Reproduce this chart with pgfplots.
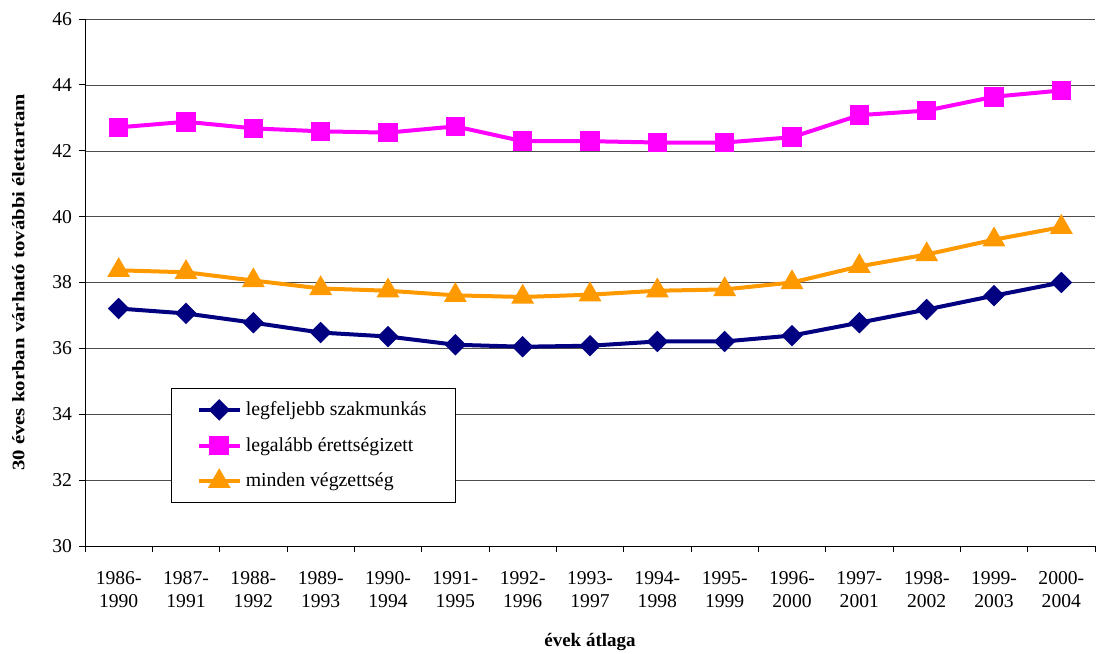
\documentclass[border=0pt]{standalone}
\usepackage{fontspec}
\setmainfont{Liberation Serif}
\newfontfamily\ylabfont[FakeStretch=1.18]{Liberation Serif}
\usepackage{pgfplots}
\pgfplotsset{compat=1.18}
\definecolor{navyc}{RGB}{0,0,128}
\definecolor{magc}{RGB}{255,0,255}
\definecolor{orac}{RGB}{255,153,0}
\begin{document}
\begin{tikzpicture}
\path[use as bounding box] (-42.5pt,-53.5pt) rectangle (508pt,273pt);
\begin{axis}[
  at={(0,0)}, anchor=south west,
  width=505pt, height=263.5pt, scale only axis,
  xmin=-0.5, xmax=14.5, ymin=30, ymax=46,
  ytick={30,32,...,46},
  xtick={0,...,14},
  xticklabels={{1986-\\1990},{1987-\\1991},{1988-\\1992},{1989-\\1993},{1990-\\1994},{1991-\\1995},{1992-\\1996},{1993-\\1997},{1994-\\1998},{1995-\\1999},{1996-\\2000},{1997-\\2001},{1998-\\2002},{1999-\\2003},{2000-\\2004}},
  minor xtick={-0.5,0.5,...,14.5},
  major x tick style={draw=none},
  minor x tick style={black, thin},
  minor tick length=3pt,
  major tick length=3pt,
  tick align=outside,
  axis x line*=bottom, axis y line*=left,
  axis line style={black, thin, -},
  ymajorgrids, grid style={black!70, very thin},
  y tick style={black, thin},
  xticklabel style={align=center, font=\fontsize{9.8}{11.5}\selectfont, yshift=-6pt},
  yticklabel style={font=\fontsize{9.8}{11}\selectfont},
  /pgf/number format/assume math mode=true,
  xlabel={\textbf{évek átlaga}},
  xlabel style={font=\fontsize{9.5}{11}\selectfont, yshift=-6pt},
  ylabel={\textbf{30 éves korban várható további élettartam}},
  ylabel style={font=\ylabfont\fontsize{8.8}{10}\selectfont, yshift=7pt},
  legend style={at={(0.0855,0.30)}, anchor=north west, draw=black, thin,
    font=\fontsize{9.9}{12}\selectfont, row sep=5.5pt, inner xsep=12.5pt, inner ysep=4.5pt,
    cells={anchor=west}},
  legend image code/.code={
    \draw[#1, mark repeat=2, mark phase=2] plot coordinates {(0pt,0pt) (10.25pt,0pt) (20.5pt,0pt)};},
  every axis plot/.append style={line width=2pt},
  clip=false,
]
\addplot[navyc, mark=square*, mark size=2.8pt, mark options={solid, rotate=45}] coordinates {
(0,37.21) (1,37.06) (2,36.78) (3,36.48) (4,36.36) (5,36.11) (6,36.05) (7,36.08) (8,36.21) (9,36.21) (10,36.39) (11,36.78) (12,37.18) (13,37.60) (14,38.00)};
\addlegendentry{legfeljebb szakmunkás}
\addplot[magc, mark=square*, mark size=3.9pt] coordinates {
(0,42.71) (1,42.88) (2,42.68) (3,42.59) (4,42.55) (5,42.74) (6,42.29) (7,42.29) (8,42.25) (9,42.25) (10,42.41) (11,43.08) (12,43.22) (13,43.64) (14,43.83)};
\addlegendentry{legalább érettségizett}
\addplot[orac, mark=triangle*, mark size=4.6pt] coordinates {
(0,38.37) (1,38.31) (2,38.06) (3,37.82) (4,37.75) (5,37.61) (6,37.56) (7,37.63) (8,37.75) (9,37.79) (10,38.00) (11,38.49) (12,38.85) (13,39.30) (14,39.68)};
\addlegendentry{minden végzettség}
\end{axis}
\end{tikzpicture}
\end{document}
